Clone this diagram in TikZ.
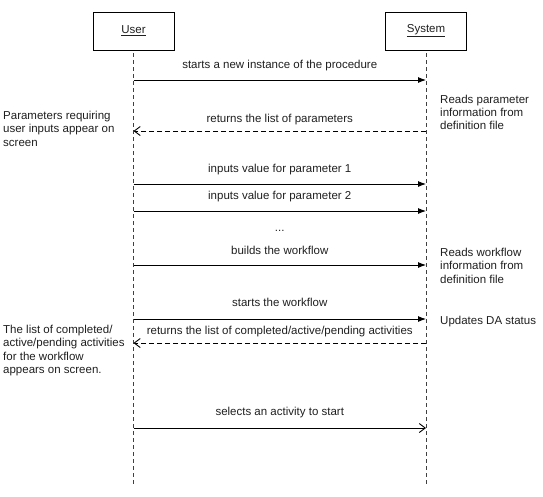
\documentclass[tikz,border=0pt]{standalone}
\usepackage{fontspec}
\setmainfont{Liberation Sans}
\usetikzlibrary{arrows.meta}
\begin{document}
\begin{tikzpicture}[x=1pt,y=-1pt,
  every node/.style={inner sep=0pt, font=\fontsize{11.5}{13.3}\selectfont, text=black!88},
  actor/.style={draw, line width=0.8pt, minimum width=81pt, minimum height=38pt},
  lifeline/.style={line width=0.9pt, dash pattern=on 4pt off 3pt, black!75},
  call/.style={line width=0.9pt, -{Latex[length=8pt,width=6pt]}},
  reply/.style={line width=0.9pt, dash pattern=on 5pt off 3pt, -{Straight Barb[length=6pt,width=9pt]}},
  openmsg/.style={line width=0.9pt, -{Straight Barb[length=6pt,width=9pt]}},
  msglabel/.style={anchor=base},
  note/.style={align=left, anchor=base west}
]
\useasboundingbox (0,0) rectangle (543,496);
% actors
\node[actor] (user) at (133.5,31) {\underline{User}};
\node[actor] (sys) at (426,31) {\underline{System}};
\coordinate (uend) at (133.5,484);
\coordinate (send) at (426,484);
\draw[lifeline] ([yshift=-3pt]user.south) -- (uend);
\draw[lifeline] ([yshift=-3pt]sys.south) -- (send);
% message end points
\foreach \i/\y in {1/80,2/131,3/184,4/211,5/265,6/319,7/343,8/428}{
  \coordinate (u\i) at (133.5,\y);
  \coordinate (s\i) at (426,\y);
}
% messages
\draw[call] (u1) -- (s1);
\node[msglabel] (m1) at (279.75,68) {starts a new instance of the procedure};
\draw[reply] (s2) -- (u2);
\node[msglabel] (m2) at (279.75,122.5) {returns the list of parameters};
\draw[call] (u3) -- (s3);
\node[msglabel] (m3) at (279.75,172.5) {inputs value for parameter 1};
\draw[call] (u4) -- (s4);
\node[msglabel] (m4) at (279.75,199.5) {inputs value for parameter 2};
\node[msglabel] (dots) at (279.75,231.5) {...};
\draw[call] (u5) -- (s5);
\node[msglabel] (m5) at (279.75,254.5) {builds the workflow};
\draw[call] (u6) -- (s6);
\node[msglabel] (m6) at (279.75,306.5) {starts the workflow};
\draw[reply] (s7) -- (u7);
\node[msglabel] (m7) at (279.75,334.5) {returns the list of completed/active/pending activities};
\draw[openmsg] (u8) -- (s8);
\node[msglabel] (m8) at (279.75,415.5) {selects an activity to start};
% notes (base anchor = baseline of last line)
\node[note] (n1) at (3,146.1) {Parameters requiring\\user inputs appear on\\screen};
\node[note] (n2) at (440,129.6) {Reads parameter\\information from\\definition file};
\node[note] (n3) at (440,283.1) {Reads workflow\\information from\\definition file};
\node[note] (n4) at (440,324.5) {Updates DA status};
\node[note] (n5) at (3,373.4) {The list of completed/\\active/pending activities\\for the workflow\\appears on screen.};
\end{tikzpicture}
\end{document}
